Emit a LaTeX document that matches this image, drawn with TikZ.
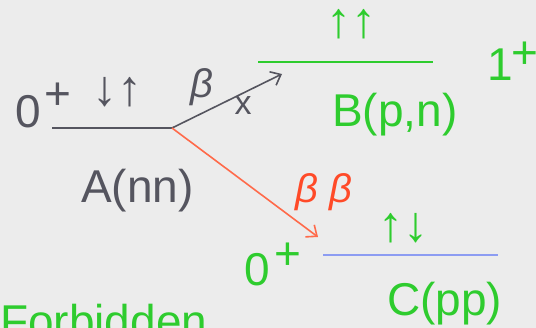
\documentclass[tikz,border=0pt]{standalone}
\usepackage{fontspec}
\setmainfont{Liberation Sans}
\usetikzlibrary{arrows.meta}

\definecolor{paper}{HTML}{ECECEC}
\definecolor{ink}{HTML}{55555F}
\definecolor{lvlgreen}{HTML}{2ECC2E}
\definecolor{lvlblue}{HTML}{8C9CF2}
\definecolor{bbred}{HTML}{FF4A28}
\definecolor{bbline}{HTML}{FF6A4A}

\tikzset{
  big/.style={inner sep=0pt, font=\fontsize{46}{50}\selectfont},
  spin/.style={inner sep=0pt, font=\fontsize{50}{54}\selectfont},
  level/.style={line width=2pt},
  decay/.style={line width=1.6pt, -{Straight Barb[length=9pt,width=15pt,line width=1.6pt]}},
}

\begin{document}
\begin{tikzpicture}[x=1pt,y=-1pt]

  % --- sfondo ---
  \fill[paper] (0,0) rectangle (536,328);
  \useasboundingbox (0,0) rectangle (536,328);

  % --- livello A ---
  \coordinate (a1) at (52,128);
  \coordinate (a2) at (172,128);
  \draw[level, ink] (a1) -- (a2);
  \node[big, ink, anchor=base west] (a0) at (15,128) {0};
  \node[big, ink] (aplus) at (58,96) {+};
  \node[spin, ink] (aspin) at (117,92) {↓↑};
  \node[big, ink, anchor=base west] (aname) at (81,203) {A(nn)};

  % --- livello B ---
  \coordinate (b1) at (258,62);
  \coordinate (b2) at (433,62);
  \draw[level, lvlgreen] (b1) -- (b2);
  \node[spin, lvlgreen] (bspin) at (351,24) {↑↑};
  \node[big, lvlgreen, anchor=base west] (b0) at (487,81) {1};
  \node[big, lvlgreen] (bplus) at (525,55) {+};
  \node[big, lvlgreen, anchor=base west] (bname) at (332,127) {B(p,n)};

  % --- livello C ---
  \coordinate (c1) at (323,255);
  \coordinate (c2) at (498,255);
  \draw[level, lvlblue] (c1) -- (c2);
  \node[spin, lvlgreen] (cspin) at (403,228) {↑↓};
  \node[big, lvlgreen, anchor=base west] (c0) at (244,286) {0};
  \node[big, lvlgreen] (cplus) at (288,256) {+};
  \node[big, lvlgreen, anchor=base west] (cname) at (387,316) {C(pp)};

  % --- decadimento beta (proibito) ---
  \coordinate (btip) at (282,74);
  \draw[decay, ink] (a2) -- (btip);
  \node[big, ink, font=\fontsize{40}{44}\selectfont\itshape] (beta) at (202,87) {β};
  \node[big, ink, font=\fontsize{34}{38}\selectfont] (cross) at (243,106) {x};

  % --- doppio decadimento beta ---
  \coordinate (ctip) at (318,237);
  \draw[decay, bbline] (a2) -- (ctip);
  \node[big, bbred, font=\fontsize{40}{44}\selectfont\itshape] (bb) at (324,192) {β β};

  % --- scritta in basso ---
  \node[big, lvlgreen, anchor=base west] (forb) at (0,338) {Forbidden};

\end{tikzpicture}
\end{document}
